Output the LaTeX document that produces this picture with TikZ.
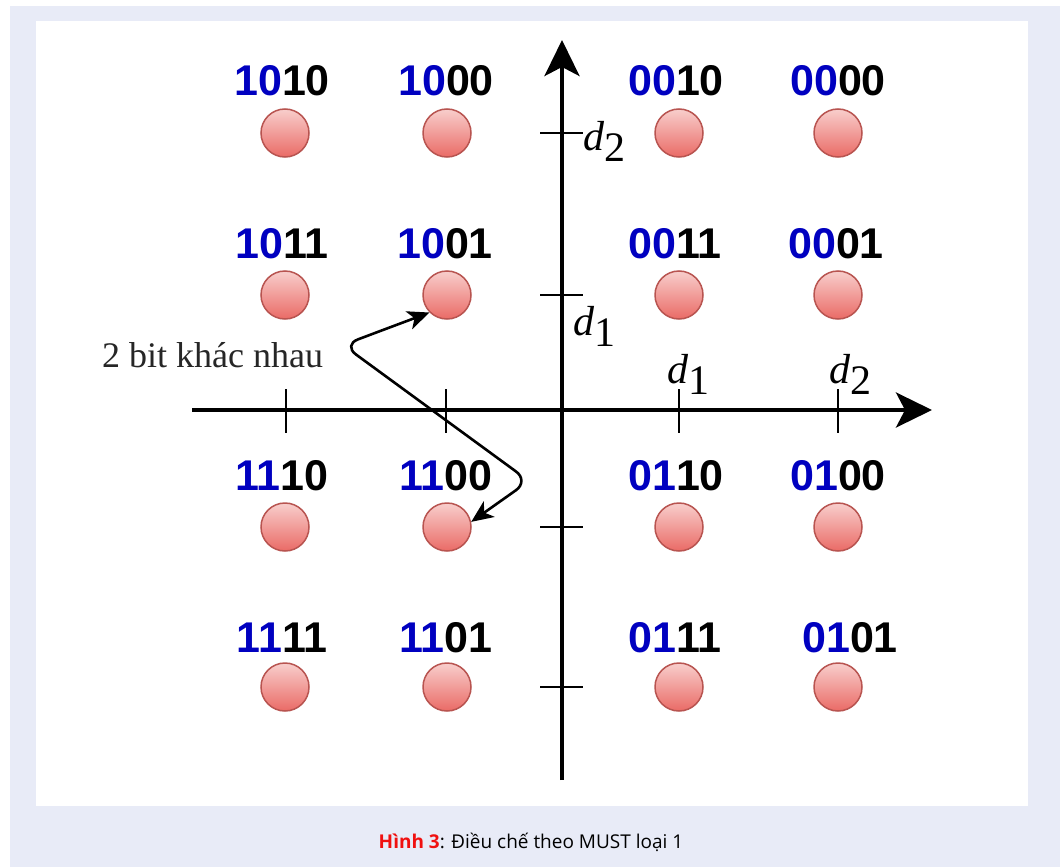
\documentclass[tikz,border=0pt]{standalone}
\usepackage{fontspec}
\setmainfont{Liberation Serif}
\newfontfamily\labfont{Liberation Sans}
\newfontfamily\capfont{Open Sans}
\usetikzlibrary{arrows.meta}
\definecolor{bgblue}{HTML}{E8EBF7}
\definecolor{bitblue}{HTML}{0000C0}
\definecolor{ptfill}{HTML}{F8CECC}
\definecolor{ptgrad}{HTML}{EA6B66}
\definecolor{ptline}{HTML}{B85450}
\definecolor{capred}{HTML}{F01010}
\newcommand{\mydsub}[2]{{\itshape #1}\raisebox{-11pt}{#2}}
\newcommand{\mybits}[2]{\textcolor{bitblue}{#1}#2}
\begin{document}
\begin{tikzpicture}[x=1pt,y=-1pt,
  pt/.style={circle, minimum size=48pt, inner sep=0pt, draw=ptline, line width=1.5pt, top color=ptfill, bottom color=ptgrad},
  bitlab/.style={font=\labfont\bfseries\fontsize{43}{43}\selectfont, inner sep=0pt},
  axis/.style={line width=4pt, -{Stealth[length=36pt,width=35pt,inset=9pt]}},
  tickmark/.style={line width=2pt},
  dlab/.style={font=\fontsize{42}{42}\selectfont, inner sep=0pt, anchor=base west},
  note/.style={line width=2.6pt, {Stealth[length=22pt,width=19pt,inset=6pt]}-{Stealth[length=22pt,width=19pt,inset=6pt]}, rounded corners=16pt}]
\useasboundingbox (0,0) rectangle (1060,867);
\fill[bgblue] (10,6) rectangle (1060,867);
\fill[white] (36,21) rectangle (1028,806);
% axes
\coordinate (xs) at (192,410);
\coordinate (xe) at (932,410);
\coordinate (ys) at (562,780);
\coordinate (ye) at (562,40);
\draw[axis] (xs) -- (xe);
\draw[axis] (ys) -- (ye);
% ticks
\foreach \x in {286,446,679,838} \draw[tickmark] (\x,389) -- (\x,433);
\foreach \y in {133,295,527,687} \draw[tickmark] (540,\y) -- (583,\y);
% tick labels
\node[dlab] (v2) at (583,150) {\mydsub{d}{2}};
\node[dlab] (v1) at (573,335) {\mydsub{d}{1}};
\node[dlab] (h1) at (667,383) {\mydsub{d}{1}};
\node[dlab] (h2) at (829,383) {\mydsub{d}{2}};
% points
\foreach \nm/\x/\y in {1010/285/133,1000/447/133,0010/679/133,0000/838/133,
  1011/285/295,1001/447/295,0011/679/295,0001/838/295,
  1110/285/527,1100/447/527,0110/679/527,0100/838/527,
  1111/285/687,1101/447/687,0111/679/687,0101/838/687}
  \node[pt] (c\nm) at (\x,\y) {};
% labels
\node[bitlab] (l1010) at (282,81) {\mybits{10}{10}};
\node[bitlab] (l1000) at (446,81) {\mybits{10}{00}};
\node[bitlab] (l0010) at (676,81) {\mybits{00}{10}};
\node[bitlab] (l0000) at (838,81) {\mybits{00}{00}};
\node[bitlab] (l1011) at (282,244) {\mybits{10}{11}};
\node[bitlab] (l1001) at (445,244) {\mybits{10}{01}};
\node[bitlab] (l0011) at (675,244) {\mybits{00}{11}};
\node[bitlab] (l0001) at (836,244) {\mybits{00}{01}};
\node[bitlab] (l1110) at (282,476) {\mybits{11}{10}};
\node[bitlab] (l1100) at (446,476) {\mybits{11}{00}};
\node[bitlab] (l0110) at (676,476) {\mybits{01}{10}};
\node[bitlab] (l0100) at (838,476) {\mybits{01}{00}};
\node[bitlab] (l1111) at (282,638) {\mybits{11}{11}};
\node[bitlab] (l1101) at (446,638) {\mybits{11}{01}};
\node[bitlab] (l0111) at (675,638) {\mybits{01}{11}};
\node[bitlab] (l0101) at (850,638) {\mybits{01}{01}};
% note
\node[anchor=base west, inner sep=0pt, font=\fontsize{36}{36}\selectfont, text=black!85] (note) at (102,367) {2 bit khác nhau};
\coordinate (k1) at (343,345);
\coordinate (k2) at (529,481);
\draw[note] (c1001.225) -- (k1) -- (k2) -- (c1100.12);
% caption
\node[font=\capfont\fontsize{19}{19}\selectfont, inner sep=0pt] (cap) at (531,842) {\textbf{\textcolor{capred}{Hình 3}}: Điều chế theo MUST loại 1};
\end{tikzpicture}
\end{document}
